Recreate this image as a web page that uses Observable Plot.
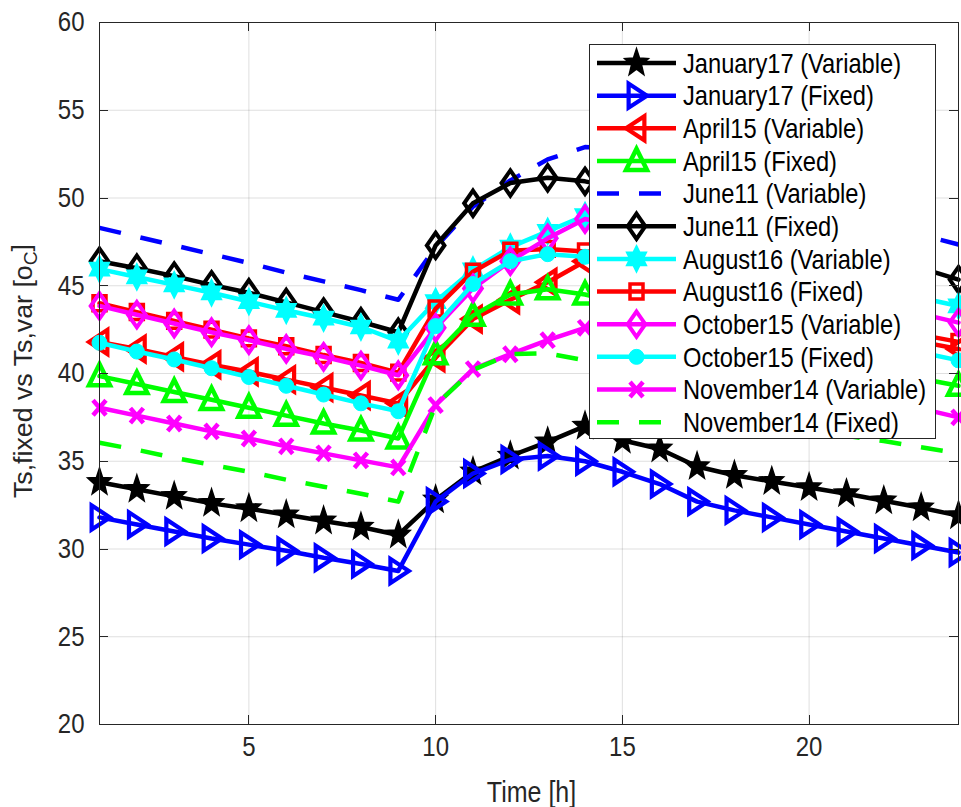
<!DOCTYPE html>
<html><head><meta charset="utf-8">
<script src="https://cdn.jsdelivr.net/npm/d3@7"></script>
<script src="https://cdn.jsdelivr.net/npm/@observablehq/plot@0.6"></script>
<style>
body{margin:0;background:#fff}
#chart{position:relative;width:961px;height:807px}
</style>
</head><body><div id="chart"></div>
<script>
// ---------- data ----------
const hours = d3.range(1, 25);
const xTicks = [5, 10, 15, 20];
const yTicks = [20, 25, 30, 35, 40, 45, 50, 55, 60];

const january17Variable = [33.8, 33.4, 33.0, 32.6, 32.3, 31.95, 31.6, 31.25, 30.8, 32.8, 34.4, 35.3, 36.1, 37.0, 36.2, 35.7, 34.7, 34.2, 33.85, 33.5, 33.15, 32.75, 32.35, 31.9];
const january17Fixed    = [31.8, 31.4, 31.0, 30.6, 30.25, 29.9, 29.5, 29.15, 28.75, 32.7, 34.3, 35.1, 35.3, 35.0, 34.4, 33.7, 32.7, 32.2, 31.8, 31.4, 31.0, 30.6, 30.2, 29.8];
const april15Variable   = [41.8, 41.4, 40.95, 40.5, 40.1, 39.65, 39.2, 38.75, 38.3, 40.9, 43.1, 44.2, 45.2, 46.4, 46.7, 46.0, 45.0, 44.3, 43.7, 43.2, 42.7, 42.2, 41.8, 41.4];
const april15Fixed      = [39.85, 39.4, 38.95, 38.5, 38.05, 37.6, 37.15, 36.75, 36.3, 41.1, 43.3, 44.5, 44.8, 44.5, 44.0, 43.2, 42.2, 41.7, 41.2, 40.8, 40.4, 40.0, 39.7, 39.3];
const june11Variable    = [48.3, 47.8, 47.3, 46.8, 46.3, 45.75, 45.25, 44.75, 44.2, 47.2, 49.5, 51.0, 52.2, 52.9, 52.8, 52.1, 51.1, 50.5, 49.9, 49.4, 48.9, 48.4, 47.9, 47.35];
const june11Fixed       = [46.4, 46.0, 45.55, 45.05, 44.6, 44.05, 43.5, 42.95, 42.35, 47.3, 49.7, 50.85, 51.15, 50.95, 50.5, 49.8, 48.9, 48.4, 47.9, 47.5, 47.1, 46.6, 46.0, 45.35];
const august16Variable  = [45.95, 45.5, 45.05, 44.6, 44.1, 43.6, 43.15, 42.65, 41.85, 44.1, 45.9, 47.2, 48.1, 49.0, 48.7, 47.9, 47.0, 46.5, 46.0, 45.6, 45.2, 44.7, 44.3, 43.85];
const august16Fixed     = [44.0, 43.5, 43.0, 42.5, 42.0, 41.55, 41.05, 40.6, 40.05, 43.7, 45.8, 47.0, 47.1, 46.95, 46.6, 45.8, 44.8, 44.3, 43.8, 43.4, 43.0, 42.6, 42.2, 41.8];
const october15Variable = [43.85, 43.35, 42.85, 42.35, 41.9, 41.4, 40.95, 40.45, 39.9, 42.6, 44.85, 46.4, 47.7, 48.8, 48.4, 47.5, 46.4, 45.8, 45.3, 44.8, 44.3, 43.9, 43.4, 42.9];
const october15Fixed    = [41.75, 41.25, 40.8, 40.3, 39.8, 39.3, 38.8, 38.3, 37.85, 42.7, 45.1, 46.4, 46.8, 46.65, 46.2, 45.4, 44.3, 43.7, 43.2, 42.7, 42.2, 41.7, 41.2, 40.75];
const november14Variable= [38.05, 37.6, 37.15, 36.7, 36.3, 35.85, 35.45, 35.05, 34.65, 38.2, 40.25, 41.1, 41.9, 42.6, 42.9, 42.3, 41.2, 40.5, 39.9, 39.4, 38.9, 38.45, 38.0, 37.5];
const november14Fixed   = [36.05, 35.65, 35.2, 34.8, 34.4, 33.95, 33.55, 33.15, 32.7, 38.2, 40.2, 41.1, 41.15, 40.75, 40.2, 39.3, 38.3, 37.7, 37.2, 36.8, 36.45, 36.15, 35.8, 35.45];

const seriesNames = ["January17 (Variable)", "January17 (Fixed)", "April15 (Variable)", "April15 (Fixed)",
  "June11 (Variable)", "June11 (Fixed)", "August16 (Variable)", "August16 (Fixed)",
  "October15 (Variable)", "October15 (Fixed)", "November14 (Variable)", "November14 (Fixed)"];
const seriesValues = [january17Variable, january17Fixed, april15Variable, april15Fixed,
  june11Variable, june11Fixed, august16Variable, august16Fixed,
  october15Variable, october15Fixed, november14Variable, november14Fixed];

// ---------- marker shapes ----------
const SY = 1.15;
function poly(pts) {
  return {draw(ctx, size) {
    const r = Math.sqrt(size / Math.PI);
    pts.forEach(([x, y], i) => i ? ctx.lineTo(x * r, y * r * SY) : ctx.moveTo(x * r, y * r * SY));
    ctx.closePath();
  }};
}
function starPts(n, inner) {
  const p = [];
  for (let i = 0; i < 2 * n; i++) {
    const a = -Math.PI / 2 + i * Math.PI / n;
    const rr = i % 2 ? inner : 1;
    p.push([rr * Math.cos(a), rr * Math.sin(a)]);
  }
  return p;
}
const pentagram = poly(starPts(5, 0.42));
const hexagram = poly(starPts(6, 0.577));
const triRight = poly([[1, 0], [-0.75, -1], [-0.75, 1]]);
const triLeft = poly([[-1, 0], [0.75, -1], [0.75, 1]]);
const triUp = poly([[0, -1], [1, 0.75], [-1, 0.75]]);
const diamond = poly([[0, -1], [0.8, 0], [0, 1], [-0.8, 0]]);
const square = poly([[-1, -1], [1, -1], [1, 1], [-1, 1]]);
const circle = {draw(ctx, size) { const r = Math.sqrt(size / Math.PI); ctx.moveTo(r, 0); ctx.arc(0, 0, r, 0, 2 * Math.PI); }};
const xmark = {draw(ctx, size) {
  const r = Math.sqrt(size / Math.PI);
  ctx.moveTo(-r, -r * SY); ctx.lineTo(r, r * SY); ctx.moveTo(-r, r * SY); ctx.lineTo(r, -r * SY);
}};

const styles = [
  {color: "#000000", symbol: pentagram, r: 12.5, fill: "#000000", sw: 1.5},
  {color: "#0000ff", symbol: triRight, r: 10.5, fill: "none", sw: 4.2},
  {color: "#ff0000", symbol: triLeft, r: 10.5, fill: "none", sw: 4.2},
  {color: "#00ff00", symbol: triUp, r: 10.5, fill: "none", sw: 4.5},
  {color: "#0000ff", dash: "22,20"},
  {color: "#000000", symbol: diamond, r: 11, fill: "none", sw: 4},
  {color: "#00ffff", symbol: hexagram, r: 11.5, fill: "#00ffff", sw: 1.5},
  {color: "#ff0000", symbol: square, r: 6.5, fill: "none", sw: 3.5},
  {color: "#ff00ff", symbol: diamond, r: 11, fill: "none", sw: 4},
  {color: "#00ffff", symbol: circle, r: 7.5, fill: "#00ffff", sw: 1},
  {color: "#ff00ff", symbol: xmark, r: 6.5, fill: "none", sw: 4.5},
  {color: "#00ff00", dash: "22,20"}
];

const FONT = "'Liberation Sans', Arial, Helvetica, sans-serif";
const INK = "#262626";

const seriesMarks = seriesValues.flatMap((vals, si) => {
  const st = styles[si];
  const d = hours.map((h, i) => ({hour: h, value: vals[i]}));
  const m = [Plot.line(d, {x: "hour", y: "value", stroke: st.color, strokeWidth: 4.5,
    strokeDasharray: st.dash, strokeLinejoin: "round", strokeLinecap: st.dash ? "butt" : "round"})];
  if (st.symbol) m.push(Plot.dot(d, {x: "hour", y: "value", symbol: st.symbol, r: st.r,
    stroke: st.color, fill: st.fill, strokeWidth: st.sw, strokeLinejoin: "miter"}));
  return m;
});

const chart = Plot.plot({
  width: 961, height: 807,
  marginLeft: 99, marginRight: 3, marginTop: 22, marginBottom: 83,
  style: {fontFamily: FONT, color: INK, background: "#fff", overflow: "visible"},
  x: {domain: [1, 24]},
  y: {domain: [20, 60]},
  marks: [
    Plot.gridX(xTicks, {stroke: INK, strokeOpacity: 0.15}),
    Plot.gridY(yTicks, {stroke: INK, strokeOpacity: 0.15}),
    ...seriesMarks,
    Plot.frame({stroke: INK, strokeWidth: 1}),
    Plot.axisX(xTicks, {tickSize: 0, tickPadding: 12, fontSize: 24, label: null}),
    Plot.axisY(yTicks, {tickSize: 0, tickPadding: 15, fontSize: 24, label: null})
  ]
});
document.getElementById("chart").appendChild(chart);

const svg = d3.select(chart);
// vertical stretch of tick labels (as in the reference)
svg.selectAll('g[aria-label="x-axis tick label"] text, g[aria-label="y-axis tick label"] text').each(function() {
  const t = this.getAttribute("transform") || "";
  this.setAttribute("transform", t + " scale(1," + SY + ")");
});

// inward ticks on all four sides
const sx = chart.scale("x"), sy = chart.scale("y");
const x0 = sx.apply(1), x1 = sx.apply(24), y0 = sy.apply(20), y1 = sy.apply(60);
const tg = svg.append("g").attr("stroke", INK).attr("stroke-width", 1);
for (const t of xTicks) {
  const x = Math.round(sx.apply(t)) + 0.5;
  tg.append("line").attr("x1", x).attr("x2", x).attr("y1", y0).attr("y2", y0 - 9);
  tg.append("line").attr("x1", x).attr("x2", x).attr("y1", y1).attr("y2", y1 + 9);
}
for (const t of yTicks) {
  const y = Math.round(sy.apply(t)) + 0.5;
  tg.append("line").attr("x1", x0).attr("x2", x0 + 9).attr("y1", y).attr("y2", y);
  tg.append("line").attr("x1", x1).attr("x2", x1 - 9).attr("y1", y).attr("y2", y);
}

// axis labels
svg.append("text")
  .attr("transform", `translate(${(x0 + x1) / 2 + 3},${y0 + 68}) scale(1,${SY})`)
  .attr("text-anchor", "middle").attr("dy", "0.35em")
  .attr("font-family", FONT).attr("font-size", 25).attr("fill", INK)
  .text("Time [h]");
const yl = svg.append("text")
  .attr("transform", `translate(23,${(y0 + y1) / 2 - 2}) rotate(-90) scale(1.07,1)`)
  .attr("text-anchor", "middle").attr("dy", "0.35em")
  .attr("font-family", FONT).attr("font-size", 25).attr("fill", INK);
yl.append("tspan").text("Ts,fixed vs Ts,var [o");
yl.append("tspan").attr("font-size", 18).attr("dy", "0.3em").text("C");
yl.append("tspan").attr("dy", "-0.3em").text("]");

// legend
const lg = svg.append("g").attr("text-anchor", "start");
lg.append("rect").attr("x", 589.5).attr("y", 44.5).attr("width", 346).attr("height", 394)
  .attr("fill", "#fff").attr("stroke", INK).attr("stroke-width", 1);
seriesNames.forEach((name, i) => {
  const st = styles[i];
  const cy = 63 + i * 32.65;
  lg.append("line").attr("x1", 597).attr("x2", 676).attr("y1", cy).attr("y2", cy)
    .attr("stroke", st.color).attr("stroke-width", 4.5)
    .attr("stroke-dasharray", st.dash || null);
  if (st.symbol) {
    lg.append("path").attr("d", d3.symbol(st.symbol, Math.PI * st.r * st.r)())
      .attr("transform", `translate(636.5,${cy})`)
      .attr("fill", st.fill).attr("stroke", st.color).attr("stroke-width", st.sw)
      .attr("stroke-linejoin", "miter");
  }
  lg.append("text").attr("transform", `translate(683,${cy}) scale(1,${SY})`)
    .attr("text-anchor", "start")
    .attr("dy", "0.36em").attr("font-family", FONT).attr("font-size", 23.7).attr("fill", "#000")
    .text(name);
});
</script>
</body></html>
